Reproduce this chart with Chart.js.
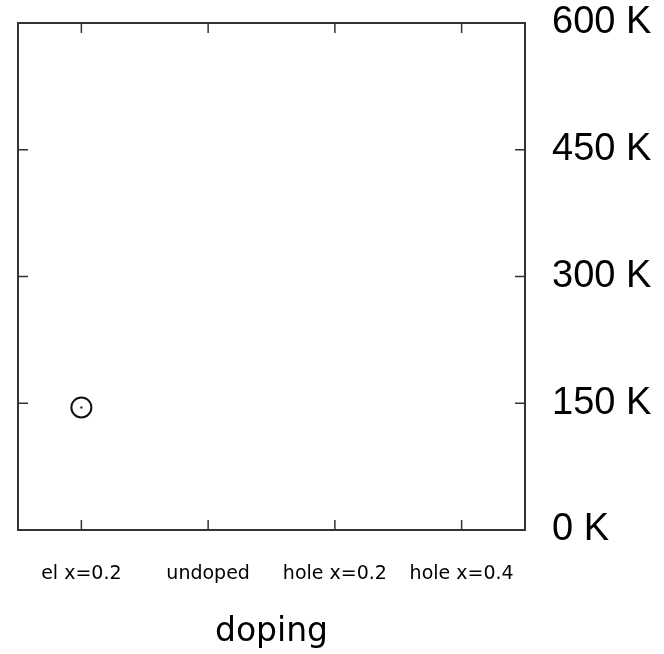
<!DOCTYPE html>
<html>
<head>
<meta charset="utf-8">
<script src="https://cdn.jsdelivr.net/npm/chart.js@4/dist/chart.umd.min.js"></script>
<style>
  html, body { margin: 0; padding: 0; background: #fff; }
  #wrap { width: 664px; height: 654px; }
</style>
</head>
<body>
<div id="wrap"><canvas id="myChart"></canvas></div>
<script>
let categories = ['el x=0.2', 'undoped', 'hole x=0.2', 'hole x=0.4'];
let temps = [145, null, null, null];   // K
let yTicks = [0, 150, 300, 450, 600];

// gnuplot-like frame with inward ticks on all four sides
const frameTicks = {
  id: 'frameTicks',
  afterDatasetsDraw(chart) {
    const { ctx, chartArea: a, scales } = chart;
    const len = 10;
    ctx.save();
    ctx.strokeStyle = '#333';
    ctx.lineWidth = 1.5;
    ctx.beginPath();
    scales.x.ticks.forEach((t, i) => {
      let px = scales.x.getPixelForTick(i);
      ctx.moveTo(px, a.bottom); ctx.lineTo(px, a.bottom - len);
      ctx.moveTo(px, a.top); ctx.lineTo(px, a.top + len);
    });
    scales.y.ticks.forEach((t, i) => {
      let py = scales.y.getPixelForTick(i);
      ctx.moveTo(a.left, py); ctx.lineTo(a.left + len, py);
      ctx.moveTo(a.right, py); ctx.lineTo(a.right - len, py);
    });
    ctx.stroke();
    ctx.lineWidth = 2;
    ctx.strokeRect(a.left, a.top, a.right - a.left, a.bottom - a.top);
    ctx.restore();
  }
};

let myChart = document.getElementById('myChart').getContext('2d');
let chart = new Chart(myChart, {
  type: 'line',
  data: {
    labels: categories,
    datasets: [{
      data: temps,
      showLine: false,
      pointStyle: 'circle',
      pointRadius: 10,
      pointBorderWidth: 2,
      pointBorderColor: '#111',
      pointBackgroundColor: 'rgba(0,0,0,0)'
    }, {
      data: temps,
      showLine: false,
      pointRadius: 1.2,
      pointBorderWidth: 0,
      pointBackgroundColor: '#333'
    }]
  },
  options: {
    responsive: true,
    maintainAspectRatio: false,
    animation: false,
    layout: { padding: { left: 18, top: 23, right: 0, bottom: 0 } },
    plugins: { legend: { display: false }, tooltip: { enabled: false } },
    scales: {
      x: {
        type: 'category',
        offset: true,
        grid: { display: false, drawTicks: false },
        border: { display: false },
        ticks: {
          color: '#000',
          padding: 33,
          maxRotation: 0,
          autoSkip: false,
          font: { family: 'DejaVu Sans', size: 19 }
        },
        title: {
          display: true,
          text: 'doping',
          color: '#000',
          font: { family: 'DejaVu Sans', size: 33 },
          padding: { top: 0, bottom: 2 }
        },
        afterFit(s) { s.height = 124; s.paddingLeft = 0; s.paddingRight = 0; }
      },
      y: {
        position: 'right',
        min: 0,
        max: 600,
        afterBuildTicks(s) { s.ticks = yTicks.map(v => ({ value: v })); },
        grid: { display: false, drawTicks: false },
        border: { display: false },
        ticks: {
          color: '#000',
          padding: 27,
          font: { family: 'Liberation Sans', size: 38 },
          callback: v => v + ' K'
        },
        afterFit(s) { s.width = 139; s.paddingTop = 0; s.paddingBottom = 0; }
      }
    }
  },
  plugins: [frameTicks]
});
</script>
</body>
</html>
